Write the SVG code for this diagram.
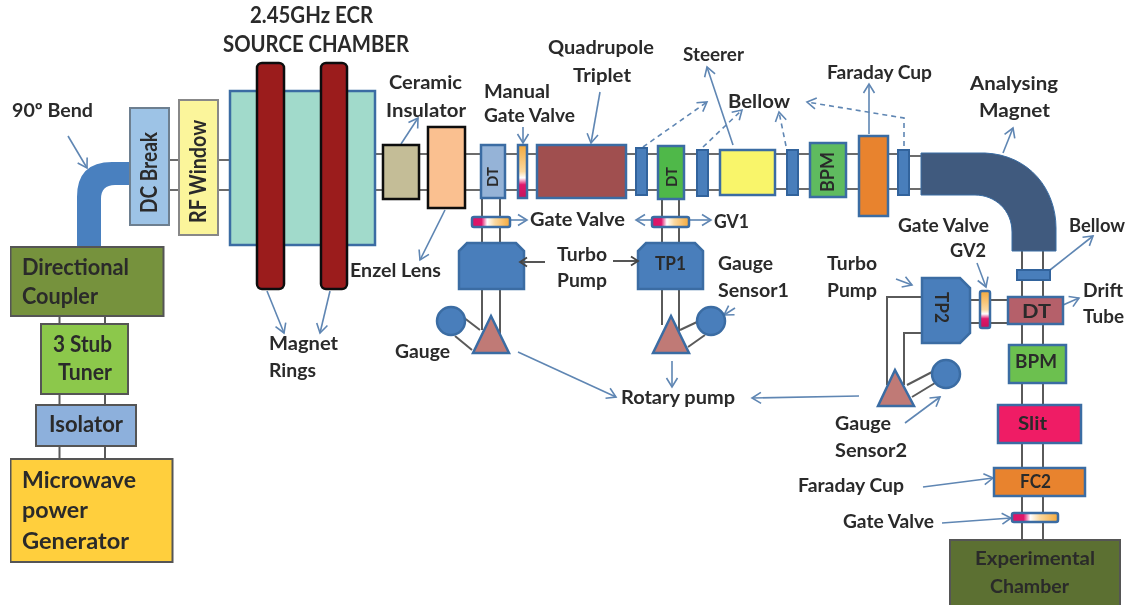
<svg xmlns="http://www.w3.org/2000/svg" width="1127" height="605" viewBox="0 0 1127 605">
<style>
text{font-family:"Lato","Open Sans","Liberation Sans",sans-serif;font-weight:700;font-size:19.500px;fill:#2a2a2a}
.big{font-size:23px}
.s16{font-size:16px}
.s19{font-size:19px}
.s21{font-size:21px}
.gr{fill:none;stroke:#5a5a5a;stroke-width:2}
.ln{fill:none;stroke:#6c6c6c;stroke-width:2}
.ar{fill:none;stroke:#5f86b3;stroke-width:1.6;marker-end:url(#oa)}
.da{fill:none;stroke:#5f86b3;stroke-width:1.6;stroke-dasharray:5 4;marker-end:url(#oa)}
.ga{fill:none;stroke:#555;stroke-width:2;marker-end:url(#og)}
.b{stroke:#3a6ca3;stroke-width:2.5}
.k{stroke:#111;stroke-width:2.5}
.g{stroke:#555;stroke-width:2}
.bw{fill:#4a7ebb;stroke:#33649c;stroke-width:2}
</style>
<defs>
<marker id="oa" markerWidth="14" markerHeight="14" refX="11" refY="7" orient="auto" markerUnits="userSpaceOnUse"><path d="M2 1.500L11 7L2 12.500" fill="none" stroke="#5f86b3" stroke-width="1.600"/></marker>
<marker id="og" markerWidth="12" markerHeight="12" refX="10" refY="6" orient="auto" markerUnits="userSpaceOnUse"><path d="M3 1.500L10 6L3 10.500" fill="none" stroke="#444" stroke-width="1.800"/></marker>
<linearGradient id="gv" x1="0" y1="0" x2="0" y2="1"><stop offset="0" stop-color="#f4a93c"/><stop offset=".5" stop-color="#fbd9a0"/><stop offset=".62" stop-color="#fff"/><stop offset=".75" stop-color="#e0146a"/><stop offset="1" stop-color="#c4145c"/></linearGradient>
<linearGradient id="gh" x1="0" y1="0" x2="1" y2="0"><stop offset="0" stop-color="#d81566"/><stop offset=".25" stop-color="#e0146a"/><stop offset=".4" stop-color="#fff"/><stop offset=".6" stop-color="#fbd9a0"/><stop offset="1" stop-color="#f4a93c"/></linearGradient>
<filter id="soft" x="0" y="0" width="100%" height="100%"><feGaussianBlur stdDeviation="0.45"/></filter>
</defs>
<rect width="1127" height="605" fill="#fff"/>
<g filter="url(#soft)">
<g id="connectors">
<path class="gr" d="M59.500 316V324M105 316V324M59.500 394V405M105 394V405M59.500 446V459M105 446V459"/>
<path class="ln" d="M169 160H179M169 190H179M218 160H230M218 190H230M375 154H383M375 190H383M419 154H428M419 190H428M465 154H481M465 190H481M505 154H518M505 190H518M527 154H537M527 190H537M626 154H636M626 190H636M647 154H658M647 190H658M684 154H697M684 190H697M708 154H720M708 190H720M775 154H787M775 189H787M798 154H810M798 189H810M846 154H859M846 189H859M888 154H898M888 189H898M909 156H921M909 189H921"/>
<path class="gr" d="M482 198V217M500 198V217M482 227V243M500 227V243M482 289V330M500 289V340M662 198V217M679 198V217M662 227V243M679 227V243M662 289V325M679 289V335"/>
<path class="gr" d="M463 317L480 330M455 336L472 350M680 330L697 322M688 347L705 335"/>
<path class="gr" d="M1022 251V540M1043 251V540"/>
<path class="gr" d="M970 300H1008M968 323H1008M922 297H887V385M922 333H904V385M907 385L932 372M912 397L935 383"/>
<path class="ar" d="M68 136L87 168"/>
<path class="ar" d="M401 144L418 118"/>
<path class="ar" d="M445 210L420 260"/>
<path class="ar" d="M267 291L284 333"/>
<path class="ar" d="M330 291L320 333"/>
<path class="ar" d="M523 127V143"/>
<path class="ar" d="M600 92L591 143"/>
<path class="da" d="M643 147L707 102"/>
<path class="da" d="M703 147L742 110"/>
<path class="ar" d="M733 145L707 67"/>
<path class="da" d="M786 146L779 112"/>
<path class="da" d="M904 146V118L807 102"/>
<path class="ar" d="M869 134V84"/>
<path class="ar" d="M1003 153L1013 128"/>
<path class="ar" d="M1050 270L1093 236"/>
<path class="ar" d="M977 263L986 287"/>
<path class="ar" d="M896 279L912 285"/>
<path class="ar" d="M1063 305L1079 298"/>
<path class="ar" d="M510 220H527"/>
<path class="ar" d="M652 220H636"/>
<path class="ar" d="M690 220H711"/>
<path class="ar" d="M735 308L724 315"/>
<path class="ar" d="M518 352L616 397"/>
<path class="ar" d="M672 361V387"/>
<path class="ar" d="M859 396L752 398"/>
<path class="ar" d="M905 423L940 397"/>
<path class="ar" d="M923 487L993 478"/>
<path class="ar" d="M942 523L1011 518"/>
</g>

<g id="bend90"><path d="M77 247V197Q77 162 112 162H130V185H115Q101 185 101 199V247Z" fill="#4a80bf"/></g>
<g id="directional-coupler"><rect x="10.500" y="247" width="153" height="69" fill="#76923c" class="g"/><text class="big" x="22" y="275" textLength="107" lengthAdjust="spacingAndGlyphs">Directional</text><text class="big" x="22" y="304" textLength="76" lengthAdjust="spacingAndGlyphs">Coupler</text></g>
<g id="stub-tuner"><rect x="41" y="324" width="87" height="70" fill="#8cc84b" class="g"/><text class="big" x="53" y="352" textLength="59" lengthAdjust="spacingAndGlyphs">3 Stub</text><text class="big" x="58" y="380" textLength="54" lengthAdjust="spacingAndGlyphs">Tuner</text></g>
<g id="isolator"><rect x="36" y="405" width="100" height="41" fill="#8db0dc" class="g"/><text class="big" x="49" y="432" textLength="74" lengthAdjust="spacingAndGlyphs">Isolator</text></g>
<g id="microwave-generator"><rect x="10.500" y="459" width="162" height="103" fill="#ffcf3c" class="g"/><text class="big" x="22" y="488" textLength="114" lengthAdjust="spacingAndGlyphs">Microwave</text><text class="big" x="22" y="518" textLength="66" lengthAdjust="spacingAndGlyphs">power</text><text class="big" x="22" y="549" textLength="107" lengthAdjust="spacingAndGlyphs">Generator</text></g>

<g id="dc-break"><rect x="130" y="108" width="39" height="117" fill="#9dc3e6" stroke="#6d7f90" stroke-width="2"/><text class="big" transform="translate(157 213) rotate(-90)" textLength="81" lengthAdjust="spacingAndGlyphs">DC Break</text></g>
<g id="rf-window"><rect x="179" y="100" width="39" height="135" fill="#fbf59b" stroke="#888" stroke-width="2"/><text class="big" transform="translate(206 223) rotate(-90)" textLength="103" lengthAdjust="spacingAndGlyphs">RF Window</text></g>
<g id="source-chamber"><rect x="230" y="91" width="145" height="154" fill="#a1dacb" class="b"/></g>
<g id="magnet-ring-1"><rect x="257" y="63" width="27" height="226" rx="5" fill="#9b1c1f" class="k"/></g>
<g id="magnet-ring-2"><rect x="321" y="63" width="26" height="226" rx="5" fill="#9b1c1f" class="k"/></g>
<g id="ceramic-insulator"><rect x="383" y="145" width="36" height="54" fill="#c4bd97" class="k"/></g>
<g id="enzel-lens"><rect x="428" y="127" width="37" height="81" fill="#fac090" class="k"/></g>
<g id="dt1"><rect x="481" y="145" width="24" height="53" fill="#95b3d7" class="b"/><text class="s16" transform="translate(498 187) rotate(-90)" textLength="20" lengthAdjust="spacingAndGlyphs">DT</text></g>
<g id="manual-gate-valve"><rect x="518" y="145" width="9" height="53" fill="url(#gv)" class="b"/></g>
<g id="quadrupole-triplet"><rect x="537" y="145" width="89" height="53" fill="#a05050" class="b"/></g>
<g id="bellow-1"><rect x="636" y="148" width="11" height="47" class="bw"/></g>
<g id="dt2"><rect x="658" y="146" width="26" height="53" fill="#4fb848" class="b"/><text class="s16" transform="translate(677 187) rotate(-90)" textLength="20" lengthAdjust="spacingAndGlyphs">DT</text></g>
<g id="bellow-2"><rect x="697" y="150" width="11" height="46" class="bw"/></g>
<g id="steerer"><rect x="720" y="150" width="55" height="45" fill="#f9f56a" class="b"/></g>
<g id="bellow-3"><rect x="787" y="150" width="11" height="45" class="bw"/></g>
<g id="bpm1"><rect x="810" y="143" width="36" height="54" fill="#5fbb5f" class="b"/><text class="s19" transform="translate(834 192) rotate(-90)" textLength="40" lengthAdjust="spacingAndGlyphs">BPM</text></g>
<g id="faraday-cup-1"><rect x="859" y="136" width="29" height="80" fill="#e8832e" class="b"/></g>
<g id="bellow-4"><rect x="898" y="150" width="11" height="45" class="bw"/></g>
<g id="analysing-magnet"><path d="M921 153H985C1030 155 1056 190 1056 228V251H1012V232C1012 210 995 195 975 195H921Z" fill="#3f5a7e" stroke="#3a6ca3" stroke-width="1"/></g>
<g id="bellow-5"><rect x="1017" y="270" width="33" height="10" class="bw"/></g>

<g id="gate-valve-1"><rect x="472" y="217" width="38" height="10" rx="2" fill="url(#gh)" class="b"/></g>
<g id="gv1"><rect x="652" y="217" width="37" height="10" rx="2" fill="url(#gh)" class="b"/></g>
<g id="turbo-pump-1"><path d="M467 243H516L524 251V289H459V251Z" fill="#4a7ebb" class="b"/></g>
<g id="tp1"><path d="M646 243H695L703 251V289H638V251Z" fill="#4a7ebb" class="b"/><text class="s19" x="655" y="270" textLength="31" lengthAdjust="spacingAndGlyphs">TP1</text></g>
<g id="gauge-1"><circle cx="451" cy="321" r="14" fill="#4a7ebb" class="b"/></g>
<g id="rotary-1"><path d="M491 316L509 353H473Z" fill="#c07a76" class="b"/></g>
<g id="rotary-2"><path d="M671 316L689 353H653Z" fill="#c07a76" class="b"/></g>
<g id="gauge-sensor-1"><circle cx="711" cy="321" r="14" fill="#4a7ebb" class="b"/></g>

<g id="tp2"><path d="M922 278H960L970 288V333L960 343H922Z" fill="#4a7ebb" class="b"/><text class="s19" transform="translate(935 292) rotate(90)" textLength="31" lengthAdjust="spacingAndGlyphs">TP2</text></g>
<g id="gv2"><rect x="980" y="291" width="10" height="37" rx="2" fill="url(#gv)" class="b"/></g>
<g id="dt3"><rect x="1008" y="297" width="55" height="27" fill="#b5606b" class="b"/><text class="s19" x="1022" y="318" textLength="29" lengthAdjust="spacingAndGlyphs">DT</text></g>
<g id="rotary-3"><path d="M895 370L914 406H878Z" fill="#c07a76" class="b"/></g>
<g id="gauge-sensor-2"><circle cx="946" cy="374" r="14" fill="#4a7ebb" class="b"/></g>
<g id="bpm2"><rect x="1009" y="345" width="57" height="38" fill="#6cc04f" class="b"/><text class="s19" x="1015" y="368" textLength="42" lengthAdjust="spacingAndGlyphs">BPM</text></g>
<g id="slit"><rect x="998" y="405" width="83" height="38" fill="#ef1a65" class="b"/><text class="s19" x="1018" y="430" textLength="29" lengthAdjust="spacingAndGlyphs">Slit</text></g>
<g id="fc2"><rect x="994" y="468" width="91" height="28" fill="#e8832e" class="b"/><text class="s19" x="1020" y="488" textLength="31" lengthAdjust="spacingAndGlyphs">FC2</text></g>
<g id="gate-valve-3"><rect x="1012" y="513" width="46" height="9" rx="2" fill="url(#gh)" class="b"/></g>
<g id="experimental-chamber"><rect x="950" y="540" width="170" height="66" fill="#5b7030" class="g"/><text x="975" y="565" textLength="120" lengthAdjust="spacingAndGlyphs">Experimental</text><text x="990" y="593" textLength="79" lengthAdjust="spacingAndGlyphs">Chamber</text></g>

<g id="pump-arrows">
<path class="ga" d="M545 262H520"/>
<path class="ga" d="M613 261H638"/>
</g>

<g id="labels">
<text class="big" x="250" y="23" textLength="123" lengthAdjust="spacingAndGlyphs">2.45GHz ECR</text>
<text class="big" x="223" y="52" textLength="186" lengthAdjust="spacingAndGlyphs">SOURCE CHAMBER</text>
<text x="12" y="117" textLength="81" lengthAdjust="spacingAndGlyphs">90º Bend</text>
<text x="269" y="350" textLength="69" lengthAdjust="spacingAndGlyphs">Magnet</text>
<text x="269" y="377" textLength="47" lengthAdjust="spacingAndGlyphs">Rings</text>
<text x="389" y="89" textLength="73" lengthAdjust="spacingAndGlyphs">Ceramic</text>
<text x="386" y="117" textLength="80" lengthAdjust="spacingAndGlyphs">Insulator</text>
<text x="350" y="277" textLength="91" lengthAdjust="spacingAndGlyphs">Enzel Lens</text>
<text x="484" y="98" textLength="66" lengthAdjust="spacingAndGlyphs">Manual</text>
<text x="484" y="122" textLength="91" lengthAdjust="spacingAndGlyphs">Gate Valve</text>
<text x="548" y="54" textLength="106" lengthAdjust="spacingAndGlyphs">Quadrupole</text>
<text x="573" y="82" textLength="58" lengthAdjust="spacingAndGlyphs">Triplet</text>
<text x="683" y="61" textLength="61" lengthAdjust="spacingAndGlyphs">Steerer</text>
<text x="728" y="108" textLength="62" lengthAdjust="spacingAndGlyphs">Bellow</text>
<text x="827" y="79" textLength="105" lengthAdjust="spacingAndGlyphs">Faraday Cup</text>
<text x="970" y="90" textLength="88" lengthAdjust="spacingAndGlyphs">Analysing</text>
<text x="979" y="117" textLength="71" lengthAdjust="spacingAndGlyphs">Magnet</text>
<text x="530" y="226" textLength="95" lengthAdjust="spacingAndGlyphs">Gate Valve</text>
<text x="714" y="228" textLength="35" lengthAdjust="spacingAndGlyphs">GV1</text>
<text x="557" y="261" textLength="50" lengthAdjust="spacingAndGlyphs">Turbo</text>
<text x="557" y="287" textLength="50" lengthAdjust="spacingAndGlyphs">Pump</text>
<text x="718" y="270" textLength="55" lengthAdjust="spacingAndGlyphs">Gauge</text>
<text x="718" y="297" textLength="71" lengthAdjust="spacingAndGlyphs">Sensor1</text>
<text x="395" y="358" textLength="55" lengthAdjust="spacingAndGlyphs">Gauge</text>
<text x="621" y="404" textLength="114" lengthAdjust="spacingAndGlyphs">Rotary pump</text>
<text x="898" y="232" textLength="91" lengthAdjust="spacingAndGlyphs">Gate Valve</text>
<text x="950" y="257" textLength="36" lengthAdjust="spacingAndGlyphs">GV2</text>
<text x="827" y="270" textLength="50" lengthAdjust="spacingAndGlyphs">Turbo</text>
<text x="827" y="297" textLength="50" lengthAdjust="spacingAndGlyphs">Pump</text>
<text x="1069" y="232" textLength="56" lengthAdjust="spacingAndGlyphs">Bellow</text>
<text x="1083" y="297" textLength="40" lengthAdjust="spacingAndGlyphs">Drift</text>
<text x="1083" y="323" textLength="41" lengthAdjust="spacingAndGlyphs">Tube</text>
<text x="835" y="430" textLength="56" lengthAdjust="spacingAndGlyphs">Gauge</text>
<text x="835" y="457" textLength="72" lengthAdjust="spacingAndGlyphs">Sensor2</text>
<text x="798" y="492" textLength="106" lengthAdjust="spacingAndGlyphs">Faraday Cup</text>
<text x="843" y="528" textLength="91" lengthAdjust="spacingAndGlyphs">Gate Valve</text>
</g>
</g>
</svg>
